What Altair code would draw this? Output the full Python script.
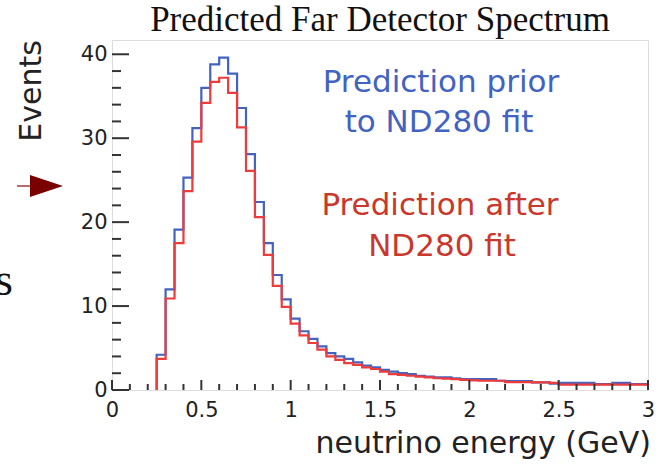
import altair as alt
import pandas as pd

# ---------------- data ----------------
bin_width = 0.05
first_edge = 0.25
blue_vals = [4.2, 12.0, 19.1, 25.3, 31.2, 36.0, 38.8, 39.6, 37.7, 33.6,
             28.1, 22.4, 17.5, 13.7, 10.8, 8.5, 7.0, 6.1, 5.2, 4.4,
             4.0, 3.7, 3.3, 2.9, 2.7, 2.4, 2.2, 2.0, 1.9, 1.7,
             1.6, 1.5, 1.5, 1.4, 1.3, 1.3, 1.3, 1.3, 1.1, 1.05,
             1.05, 1.05, 0.9, 0.9, 0.75, 0.85, 0.85, 0.85, 0.85, 0.7,
             0.7, 0.85, 0.85, 0.7, 0.7]
red_vals = [3.7, 10.9, 17.5, 23.7, 29.6, 34.2, 36.7, 37.2, 35.4, 31.3,
            26.1, 20.6, 16.1, 12.4, 9.9, 7.9, 6.5, 5.6, 4.8, 4.0,
            3.6, 3.2, 3.0, 2.7, 2.5, 2.2, 1.9, 1.8, 1.7, 1.6,
            1.5, 1.4, 1.35, 1.3, 1.2, 1.15, 1.1, 1.1, 1.1, 0.95,
            0.95, 0.95, 0.9, 0.9, 0.85, 0.65, 0.65, 0.65, 0.65, 0.65,
            0.65, 0.65, 0.65, 0.65, 0.65]

x_tick_labels = [0, 0.5, 1, 1.5, 2, 2.5, 3]
x_minor = [0.1, 0.2, 0.3, 0.4, 0.6, 0.7, 0.8, 0.9, 1.1, 1.2, 1.3, 1.4,
           1.6, 1.7, 1.8, 1.9, 2.1, 2.2, 2.3, 2.4, 2.6, 2.7, 2.8, 2.9]
y_tick_labels = [0, 10, 20, 30, 40]
y_minor = [2, 4, 6, 8, 12, 14, 16, 18, 22, 24, 26, 28, 32, 34, 36, 38]

W, H = 536, 350
XDOM = [0, 3]
YDOM = [0, 41.7]
BLUE = "#4263c0"
RED = "#ee3b3b"
RED_TEXT = "#c9382c"
FONT = "DejaVu Sans"

xs = alt.Scale(domain=XDOM, nice=False, zero=False)
ys = alt.Scale(domain=YDOM, nice=False)
XAX = alt.Axis(values=x_tick_labels, format="~g", title=None, domain=False,
               ticks=False, grid=False, labelFontSize=21, labelFont=FONT,
               labelColor="#222", labelPadding=9, labelFlush=False)
YAX = alt.Axis(values=y_tick_labels, title=None, domain=False, ticks=False,
               grid=False, labelFontSize=21, labelFont=FONT, labelColor="#222",
               labelPadding=5)


def hist_frame(vals):
    xs_ = [first_edge] + [round(first_edge + i * bin_width, 4) for i in range(len(vals))] + [3.0]
    ys_ = [0] + list(vals) + [vals[-1]]
    return pd.DataFrame({"x": xs_, "v": ys_, "idx": list(range(len(xs_)))})


def hist_layer(vals, color):
    return alt.Chart(hist_frame(vals)).mark_line(
        interpolate="step-after", color=color, strokeWidth=2.2
    ).encode(
        x=alt.X("x:Q", scale=xs, axis=XAX),
        y=alt.Y("v:Q", scale=ys, axis=YAX),
        order="idx:Q",
    )


def text_layer(txt, x, y, size, color, font=FONT, align="center", angle=0, baseline="alphabetic"):
    return alt.Chart(pd.DataFrame({"t": [txt]})).mark_text(
        fontSize=size, font=font, color=color, align=align, baseline=baseline, angle=angle
    ).encode(x=alt.value(x), y=alt.value(y), text="t:N")


ymaj = alt.Chart(pd.DataFrame({"v": y_tick_labels})).mark_rule(color="#333", strokeWidth=2).encode(
    y=alt.Y("v:Q", scale=ys, axis=YAX), x=alt.value(0), x2=alt.value(17))
ymin = alt.Chart(pd.DataFrame({"v": y_minor})).mark_rule(color="#333", strokeWidth=2).encode(
    y=alt.Y("v:Q", scale=ys, axis=YAX), x=alt.value(0), x2=alt.value(9))
xmaj = alt.Chart(pd.DataFrame({"x": x_tick_labels})).mark_rule(color="#333", strokeWidth=2).encode(
    x=alt.X("x:Q", scale=xs, axis=XAX), y=alt.value(H), y2=alt.value(H - 10))
xmin = alt.Chart(pd.DataFrame({"x": x_minor})).mark_rule(color="#333", strokeWidth=2).encode(
    x=alt.X("x:Q", scale=xs, axis=XAX), y=alt.value(H), y2=alt.value(H - 6))

# left-hand fragments of the slide (arrow and a cut letter)
arrow_line = alt.Chart(pd.DataFrame({"a": [0]})).mark_rule(color="#a33a3a", strokeWidth=1.5).encode(
    x=alt.value(-95), x2=alt.value(-80), y=alt.value(146))
arrow_head = alt.Chart(pd.DataFrame({"a": [0]})).mark_point(
    shape="M -1 -0.667 L 1 0 L -1 0.667 Z", filled=True, color="#7a0000", opacity=1, size=1089
).encode(x=alt.value(-65.5), y=alt.value(146))

layers = [
    hist_layer(blue_vals, BLUE),
    hist_layer(red_vals, RED),
    ymaj, ymin, xmaj, xmin,
    text_layer("Predicted Far Detector Spectrum", W / 2, -9, 35, "#111", font="Liberation Serif"),
    text_layer("Events", -80, 51, 30, "#222", angle=270, baseline="middle"),
    text_layer("neutrino energy (GeV)", W + 3, H + 63, 30, "#222", align="right"),
    text_layer("Prediction prior", 329, 52, 31, BLUE),
    text_layer("to ND280 fit", 327, 92, 31, BLUE),
    text_layer("Prediction after", 328, 175, 31, RED_TEXT),
    text_layer("ND280 fit", 330, 216, 31, RED_TEXT),
    text_layer("s", -99, 255, 46, "#111", font="Liberation Serif", align="right"),
    arrow_line, arrow_head,
]

chart = alt.layer(*layers).properties(
    width=W, height=H,
    autosize=alt.AutoSizeParams(type="none"),
    padding={"left": 112, "top": 40, "right": 9, "bottom": 74},
).configure_view(stroke="#222", strokeWidth=2).configure(background="white")

chart.save("out.html", embed_options={"renderer": "svg", "actions": False})
